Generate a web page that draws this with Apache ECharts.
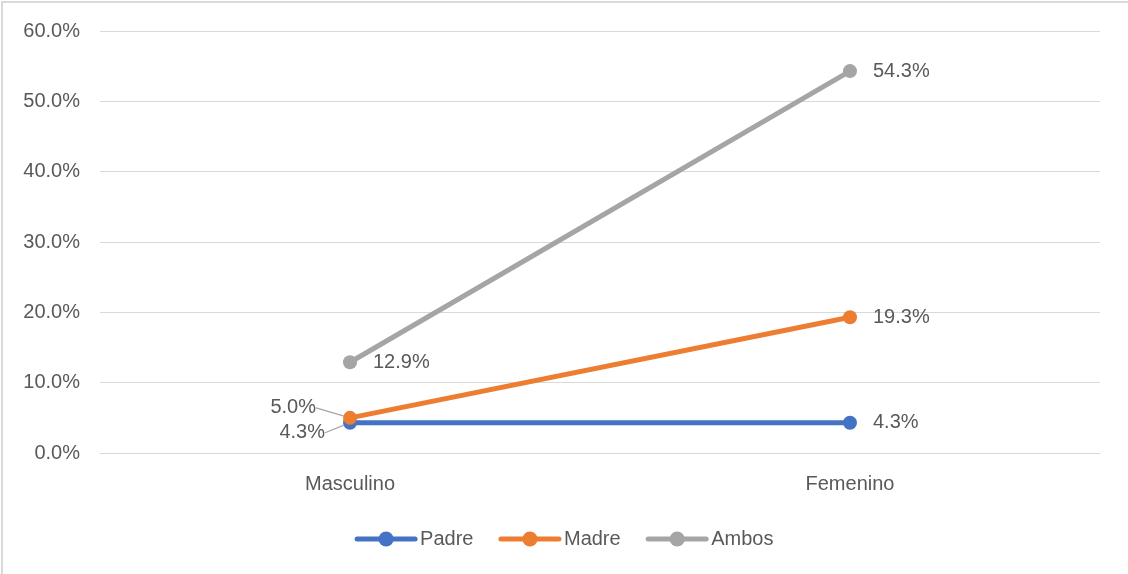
<!DOCTYPE html>
<html>
<head>
<meta charset="utf-8">
<script src="https://cdn.jsdelivr.net/npm/echarts@6/dist/echarts.min.js"></script>
<style>
  html, body { margin: 0; padding: 0; background: #fff; }
  #chart { width: 1128px; height: 574px; }
</style>
</head>
<body>
<div id="chart"></div>
<script>
var categories = ["Masculino", "Femenino"];
var padre = [4.3, 4.3];
var madre = [5.0, 19.3];
var ambos = [12.9, 54.3];
var yTicks = [0, 10, 20, 30, 40, 50, 60];

var font = "Liberation Sans";
var textColor = "#595959";
var fontSize = 20;

function makeData(values, special) {
  return values.map(function (v, i) {
    if (special && special[i]) {
      return {
        value: v,
        label: special[i].label,
        labelLine: { show: true, lineStyle: { color: "#A5A5A5", width: 1.2 } },
      };
    }
    return v;
  });
}

function lineSeries(name, color, values, special, layout) {
  return {
    name: name,
    type: "line",
    data: makeData(values, special),
    symbol: "circle",
    symbolSize: 14,
    lineStyle: { color: color, width: 5 },
    itemStyle: { color: color },
    label: {
      show: true,
      position: "right",
      distance: 16,
      color: textColor,
      fontFamily: font,
      fontSize: fontSize,
      formatter: function (p) {
        return p.value.toFixed(1) + "%";
      },
    },
    labelLayout: layout,
  };
}

var myChart = echarts.init(document.getElementById("chart"));
var option = {
  animation: false,
  grid: {
    left: 100,
    right: 28,
    top: 31,
    bottom: 121,
  },
  xAxis: {
    type: "category",
    data: categories,
    boundaryGap: true,
    axisLine: { lineStyle: { color: "#D9D9D9", width: 1 } },
    axisTick: { show: false },
    axisLabel: {
      color: textColor,
      fontFamily: font,
      fontSize: fontSize,
      margin: 21,
    },
  },
  yAxis: {
    type: "value",
    min: yTicks[0],
    max: yTicks[yTicks.length - 1],
    interval: 10,
    axisLine: { show: false },
    axisTick: { show: false },
    splitLine: { lineStyle: { color: "#D9D9D9", width: 1 } },
    axisLabel: {
      color: textColor,
      fontFamily: font,
      fontSize: fontSize,
      margin: 20,
      formatter: function (v) {
        return v.toFixed(1) + "%";
      },
    },
  },
  legend: {
    top: 524,
    left: "center",
    itemWidth: 58,
    itemHeight: 19,
    itemGap: 25,
    lineStyle: { width: 5, cap: "round" },
    textStyle: { color: textColor, fontFamily: font, fontSize: fontSize },
    data: ["Padre", "Madre", "Ambos"],
  },
  graphic: [
    {
      type: "rect",
      shape: { x: 2, y: 2, width: 1200, height: 700 },
      style: { fill: "none", stroke: "#D9D9D9", lineWidth: 2 },
      silent: true,
    },
  ],
  series: [
    lineSeries("Padre", "#4472C4", padre, [{ label: { position: "left", distance: 5 } }], function (p) {
      if (p.dataIndex === 0) return { dx: -13, dy: 10 };
      return {};
    }),
    lineSeries("Madre", "#ED7D31", madre, [{ label: { position: "left", distance: 5 } }], function (p) {
      if (p.dataIndex === 0) return { dx: -22, dy: -10 };
      return {};
    }),
    lineSeries("Ambos", "#A5A5A5", ambos, null, null),
  ],
};
myChart.setOption(option);
</script>
</body>
</html>
